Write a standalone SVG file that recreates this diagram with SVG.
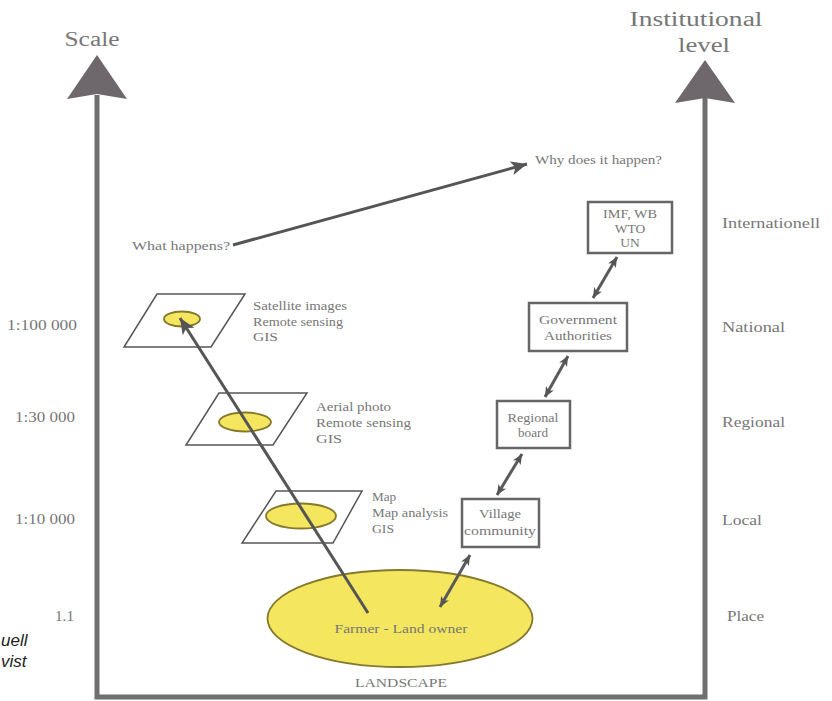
<svg xmlns="http://www.w3.org/2000/svg" width="832" height="701" viewBox="0 0 832 701">
<style>
  .t { font-family: "Liberation Serif", "DejaVu Serif", serif; fill: #777; }
  .big { font-size: 20px; }
  .lvl { font-size: 15px; }
  .sm { font-size: 13.5px; }
  .axis { stroke: #6f6f6f; stroke-width: 5; fill: none; }
  .head { fill: #6e676b; }
  .plane { fill: #fff; stroke: #555; stroke-width: 1.5; }
  .spot { fill: #f4e65e; stroke: #85792c; stroke-width: 1.8; }
  .box { fill: #fff; stroke: #666; stroke-width: 2.5; }
  .conn { stroke: #555; stroke-width: 3; fill: none; }
  .dbl { stroke: #5a5a5a; stroke-width: 3; fill: none; marker-start: url(#sh); marker-end: url(#sh); }
  .note { font-family: "Liberation Sans", "DejaVu Sans", sans-serif; font-style: italic; font-size: 17px; fill: #222; }
</style>
<defs>
  <marker id="ah" markerUnits="userSpaceOnUse" markerWidth="20" markerHeight="16" refX="16" refY="7" orient="auto">
    <path d="M0,0 L16,7 L0,14 L4,7 Z" fill="#555"/>
  </marker>
  <marker id="sh" markerUnits="userSpaceOnUse" markerWidth="12" markerHeight="10" refX="10" refY="4.5" orient="auto-start-reverse">
    <path d="M0,0 L10,4.5 L0,9 L2.5,4.5 Z" fill="#555"/>
  </marker>
</defs>
<rect width="832" height="701" fill="#fff"/>

<g id="axes">
  <path class="axis" d="M97,95 L97,697 L705,697 L705,98"/>
  <polygon class="head" points="97,55 127,99 97,94 67,99"/>
  <polygon class="head" points="705,60 735,103 705,98 675,103"/>
  <text class="t big" x="92" y="46" text-anchor="middle" textLength="55" lengthAdjust="spacingAndGlyphs">Scale</text>
  <text class="t big" x="696" y="26" text-anchor="middle" textLength="133" lengthAdjust="spacingAndGlyphs">Institutional</text>
  <text class="t big" x="704" y="52" text-anchor="middle" textLength="52" lengthAdjust="spacingAndGlyphs">level</text>
</g>

<g id="scale-labels">
  <text class="t lvl" x="77" y="330" text-anchor="end" textLength="70" lengthAdjust="spacingAndGlyphs">1:100 000</text>
  <text class="t lvl" x="75" y="422" text-anchor="end" textLength="60" lengthAdjust="spacingAndGlyphs">1:30 000</text>
  <text class="t lvl" x="75" y="524" text-anchor="end" textLength="60" lengthAdjust="spacingAndGlyphs">1:10 000</text>
  <text class="t lvl" x="74" y="621" text-anchor="end" textLength="19" lengthAdjust="spacingAndGlyphs">1.1</text>
</g>

<g id="level-labels">
  <text class="t lvl" x="722" y="228" textLength="98" lengthAdjust="spacingAndGlyphs">Internationell</text>
  <text class="t lvl" x="722" y="332" textLength="63" lengthAdjust="spacingAndGlyphs">National</text>
  <text class="t lvl" x="722" y="427" textLength="63" lengthAdjust="spacingAndGlyphs">Regional</text>
  <text class="t lvl" x="722" y="525" textLength="40" lengthAdjust="spacingAndGlyphs">Local</text>
  <text class="t lvl" x="727" y="621" textLength="37" lengthAdjust="spacingAndGlyphs">Place</text>
</g>

<g id="what">
  <text class="t sm" x="132" y="250" textLength="98" lengthAdjust="spacingAndGlyphs">What happens?</text>
</g>
<g id="why">
  <text class="t sm" x="535" y="164" textLength="127" lengthAdjust="spacingAndGlyphs">Why does it happen?</text>
</g>

<g id="satellite">
  <polygon class="plane" points="157,294 245,294 211,347 124,347"/>
  <ellipse class="spot" cx="182" cy="319" rx="18" ry="7.5"/>
  <text class="t sm" x="253" y="310" textLength="94" lengthAdjust="spacingAndGlyphs">Satellite images</text>
  <text class="t sm" x="253" y="326" textLength="90" lengthAdjust="spacingAndGlyphs">Remote sensing</text>
  <text class="t sm" x="253" y="341" textLength="25" lengthAdjust="spacingAndGlyphs">GIS</text>
</g>

<g id="aerial">
  <polygon class="plane" points="219,393 307,393 273,445 186,445"/>
  <ellipse class="spot" cx="245" cy="422" rx="26" ry="9.5"/>
  <text class="t sm" x="316" y="411" textLength="75" lengthAdjust="spacingAndGlyphs">Aerial photo</text>
  <text class="t sm" x="316" y="427" textLength="95" lengthAdjust="spacingAndGlyphs">Remote sensing</text>
  <text class="t sm" x="316" y="443" textLength="26" lengthAdjust="spacingAndGlyphs">GIS</text>
</g>

<g id="map">
  <polygon class="plane" points="276,491 362,491 333,543 242,543"/>
  <ellipse class="spot" cx="301" cy="516" rx="35" ry="12.5"/>
  <text class="t sm" x="372" y="501" textLength="24" lengthAdjust="spacingAndGlyphs">Map</text>
  <text class="t sm" x="372" y="517" textLength="76" lengthAdjust="spacingAndGlyphs">Map analysis</text>
  <text class="t sm" x="372" y="533" textLength="22" lengthAdjust="spacingAndGlyphs">GIS</text>
</g>

<g id="landscape">
  <ellipse class="spot" cx="400" cy="618.5" rx="132.5" ry="48.5" stroke-width="2"/>
  <text class="t sm" x="401" y="633" text-anchor="middle" textLength="133" lengthAdjust="spacingAndGlyphs">Farmer - Land owner</text>
  <text class="t sm" x="401" y="687" text-anchor="middle" textLength="92" lengthAdjust="spacingAndGlyphs">LANDSCAPE</text>
</g>

<g id="imf">
  <rect class="box" x="588" y="202" width="84" height="51"/>
  <text class="t sm" x="630" y="218" text-anchor="middle" textLength="54" lengthAdjust="spacingAndGlyphs">IMF, WB</text>
  <text class="t sm" x="630" y="233" text-anchor="middle">WTO</text>
  <text class="t sm" x="630" y="247" text-anchor="middle">UN</text>
</g>

<g id="government">
  <rect class="box" x="529" y="303" width="98" height="48"/>
  <text class="t sm" x="578" y="324" text-anchor="middle" textLength="78" lengthAdjust="spacingAndGlyphs">Government</text>
  <text class="t sm" x="578" y="340" text-anchor="middle" textLength="68" lengthAdjust="spacingAndGlyphs">Authorities</text>
</g>

<g id="regional">
  <rect class="box" x="497" y="401" width="73" height="47"/>
  <text class="t sm" x="533" y="422" text-anchor="middle" textLength="51" lengthAdjust="spacingAndGlyphs">Regional</text>
  <text class="t sm" x="533" y="437" text-anchor="middle" textLength="30" lengthAdjust="spacingAndGlyphs">board</text>
</g>

<g id="village">
  <rect class="box" x="462" y="499" width="77" height="48"/>
  <text class="t sm" x="500" y="518" text-anchor="middle" textLength="42" lengthAdjust="spacingAndGlyphs">Village</text>
  <text class="t sm" x="500" y="535" text-anchor="middle" textLength="72" lengthAdjust="spacingAndGlyphs">community</text>
</g>

<g id="connectors">
  <line class="conn" x1="233" y1="245" x2="527" y2="164" marker-end="url(#ah)"/>
  <line class="conn" x1="368" y1="613" x2="180" y2="318" marker-end="url(#ah)"/>
  <line class="dbl" x1="617" y1="257" x2="593" y2="298"/>
  <line class="dbl" x1="568" y1="356" x2="545" y2="397"/>
  <line class="dbl" x1="522" y1="454" x2="497" y2="495"/>
  <line class="dbl" x1="470" y1="555" x2="440" y2="607"/>
</g>

<g id="note">
  <text class="note" x="1" y="646">uell</text>
  <text class="note" x="1" y="667">vist</text>
</g>
</svg>
